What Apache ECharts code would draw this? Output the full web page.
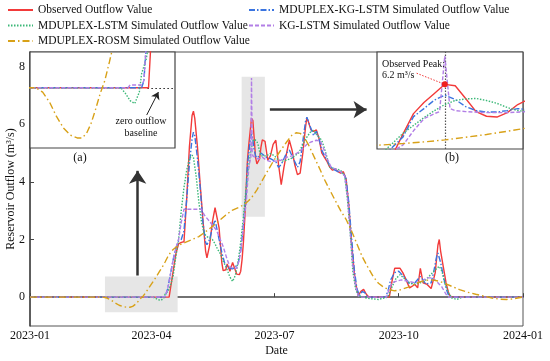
<!DOCTYPE html>
<html><head><meta charset="utf-8">
<script src="https://cdn.jsdelivr.net/npm/echarts@6/dist/echarts.min.js"></script>
<style>html,body{margin:0;padding:0;background:#fff}#c{width:550px;height:361px}</style>
</head><body><div id="c"></div>
<script>
// x values are days since 2023-01-01
const monthTicks = [0, 90, 181, 273, 365];
const monthLabels = ['2023-01', '2023-04', '2023-07', '2023-10', '2024-01'];
const yTicks = [0, 2, 4, 6, 8];

const observed = [[0,0],[103,0],[104,0.3],[106,0.9],[108,1.5],[110,1.85],[112,1.9],[114,1.92],[116,3.4],[118,5.2],[120,6.3],[121,6.45],[122,6.2],[124,5.2],[126,3.9],[128,2.7],[130,1.6],[131,1.36],[133,1.8],[135,2.6],[137,3.1],[138,3.14],[140,2.4],[142,1.2],[143,0.92],[145,0.95],[146,1.15],[148,0.9],[150,1.2],[151,1.15],[153,0.8],[155,0.78],[156,0.9],[157,1.3],[158,1.9],[159,2.7],[160,3.75],[161,4.75],[162,5.3],[163,5.75],[164,6.2],[165,6.13],[166,5.5],[167,4.85],[168,4.62],[169,4.58],[170,4.8],[171,5.2],[172,5.45],[174,5.4],[176,4.75],[178,4.9],[180,5.3],[182,5.44],[184,4.6],[186,3.9],[188,4.5],[190,5.0],[192,5.44],[194,5.1],[196,4.6],[198,4.25],[200,4.3],[202,5.0],[204,5.9],[205,6.22],[206,6.1],[208,5.8],[210,5.75],[212,5.8],[214,5.5],[216,5.0],[218,4.85],[220,4.7],[222,4.5],[224,4.4],[226,4.45],[228,4.35],[230,4.3],[232,4.35],[234,4.1],[236,3.2],[238,1.9],[240,0.9],[241,0.5],[243,0.05],[245,0.2],[247,0.27],[249,0.1],[251,0],[266,0],[268,0.55],[270,1.0],[274,1.0],[276,0.85],[278,0.65],[281,0.32],[285,0.44],[287,0.32],[289,1.0],[291,0.5],[294,0.44],[297,0.3],[300,0.84],[302,1.8],[303,2.0],[304,1.6],[306,1.05],[308,0.5],[310,0.12],[312,0],[365,0]];

const mduplexKgLstm = [[0,0],[100,0],[101,0.05],[102,0.3],[104,0.8],[106,1.3],[108,1.7],[110,1.95],[112,2.0],[114,2.3],[116,3.4],[118,4.6],[120,5.5],[121,5.72],[122,5.6],[124,4.8],[126,3.8],[128,2.6],[130,1.9],[131,1.82],[133,2.0],[135,2.4],[137,2.68],[138,2.65],[140,2.0],[142,1.55],[144,1.2],[146,1.05],[148,1.0],[150,0.98],[152,1.05],[154,1.15],[156,1.6],[158,2.5],[159,3.1],[160,3.6],[161,4.6],[162,5.0],[163,5.42],[164,5.67],[165,5.45],[166,5.1],[167,4.9],[168,4.83],[169,4.83],[170,4.9],[171,5.0],[172,4.95],[175,4.85],[178,4.8],[180,4.75],[182,4.7],[184,4.5],[186,4.6],[188,4.8],[190,5.0],[192,5.1],[194,4.9],[196,4.7],[198,4.5],[200,4.7],[202,5.4],[204,6.1],[205,6.24],[206,6.1],[208,5.85],[210,5.6],[212,5.75],[214,5.5],[216,5.1],[218,4.9],[220,4.75],[222,4.55],[224,4.45],[228,4.35],[232,4.3],[234,4.1],[236,3.3],[238,2.1],[240,1.0],[242,0.3],[244,0.05],[246,0.2],[248,0.15],[250,0],[263,0],[265,0.2],[267,0.6],[270,0.85],[273,0.9],[276,0.75],[278,0.65],[281,0.45],[285,0.5],[289,0.72],[291,0.6],[293,0.45],[297,0.5],[299,0.9],[301,1.4],[302,1.53],[304,1.2],[306,0.75],[308,0.3],[310,0.05],[312,0],[365,0]];

const mduplexLstm = [[0,0],[91,0],[93,-0.04],[95,-0.09],[97,-0.11],[99,-0.03],[100,0.1],[102,0.2],[104,0.4],[106,0.75],[108,1.4],[110,2.0],[112,3.0],[114,3.8],[116,4.4],[118,4.8],[120,4.92],[121,4.85],[123,4.2],[125,3.3],[127,2.6],[129,2.2],[131,2.1],[133,2.05],[135,2.0],[137,1.85],[139,1.65],[141,1.5],[143,1.25],[146,0.95],[148,0.7],[150,0.55],[152,0.75],[154,1.2],[156,1.9],[158,2.8],[160,3.78],[162,4.55],[163,4.9],[164,5.2],[165,5.4],[166,5.48],[167,5.5],[168,5.4],[169,5.26],[170,5.05],[171,4.9],[172,4.85],[175,4.9],[178,4.98],[181,4.9],[184,4.75],[187,4.72],[190,4.75],[193,4.8],[196,4.9],[199,5.0],[202,5.3],[205,5.55],[208,5.75],[210,5.78],[213,5.6],[216,5.44],[219,5.0],[222,4.5],[226,4.45],[230,4.4],[233,4.2],[235,3.4],[237,2.3],[239,0.9],[241,0.3],[243,0.05],[246,0],[252,-0.05],[258,-0.08],[262,-0.03],[265,0],[268,0.35],[271,0.65],[274,0.78],[277,0.65],[281,0.5],[285,0.45],[289,0.5],[292,0.55],[296,0.75],[300,0.95],[303,1.07],[305,0.9],[307,0.5],[310,0.15],[312,-0.02],[316,-0.08],[320,0],[365,0]];

const kgLstm = [[0,0],[94,0],[95,0.02],[100,0.02],[101,0.05],[102,0.3],[104,0.8],[106,1.3],[108,1.7],[110,2.0],[112,2.6],[114,3.05],[127,3.05],[129,2.85],[132,2.68],[135,2.5],[138,2.33],[140,2.1],[143,1.76],[146,1.3],[148,1.07],[150,1.0],[153,1.0],[155,1.3],[157,2.0],[158,2.5],[159,2.9],[160,3.2],[161,3.9],[162,4.5],[163,4.75],[163.5,4.85],[164,7.6],[164.5,5.0],[165,4.9],[166,4.85],[168,4.8],[170,4.8],[172,4.85],[175,4.75],[178,4.7],[182,4.72],[186,4.75],[190,4.85],[194,4.9],[198,5.0],[202,5.15],[205,5.3],[208,5.38],[212,5.44],[215,5.4],[217,5.2],[220,4.8],[223,4.5],[226,4.45],[230,4.35],[233,4.2],[235,3.5],[237,2.3],[239,1.1],[241,0.4],[243,0.05],[245,0],[264,0],[266,0.3],[268,0.5],[271,0.55],[275,0.6],[280,0.55],[285,0.5],[290,0.55],[294,0.67],[298,0.67],[301,0.55],[303,0.45],[305,0.35],[308,0.1],[310,0],[365,0]];

const mduplexRosm = [[0,0],[54,0],[57,-0.03],[60,-0.1],[63,-0.2],[66,-0.28],[69,-0.33],[72,-0.35],[74,-0.35],[76,-0.32],[78,-0.25],[80,-0.15],[82,-0.04],[84,0.05],[86,0.18],[88,0.32],[90,0.46],[92,0.6],[94,0.75],[96,0.9],[98,1.05],[100,1.22],[102,1.4],[104,1.55],[106,1.65],[108,1.73],[110,1.79],[112,1.84],[115,1.9],[120,2.0],[125,2.1],[130,2.27],[135,2.45],[140,2.65],[145,2.85],[150,3.02],[155,3.12],[158,3.2],[160,3.27],[162,3.35],[164,3.45],[166,3.58],[168,3.72],[170,3.88],[172,4.05],[175,4.3],[180,4.7],[185,5.05],[190,5.38],[194,5.62],[197,5.7],[200,5.68],[203,5.55],[206,5.3],[209,5.0],[212,4.7],[215,4.4],[218,4.08],[222,3.71],[226,3.35],[230,3.0],[234,2.7],[238,2.3],[242,1.85],[246,1.4],[250,1.05],[254,0.72],[258,0.48],[262,0.34],[266,0.26],[270,0.22],[274,0.25],[280,0.35],[286,0.48],[292,0.58],[298,0.6],[303,0.55],[308,0.46],[313,0.36],[318,0.26],[324,0.17],[330,0.1],[336,0.04],[342,-0.03],[348,-0.07],[353,-0.08],[358,-0.06],[362,-0.02],[365,0]];

const FONT = '"Liberation Serif", "Times New Roman", serif';
const defs = [
  {name: 'Observed Outflow Value', data: observed, color: '#f23a3a', type: 'solid'},
  {name: 'MDUPLEX-KG-LSTM Simulated Outflow Value', data: mduplexKgLstm, color: '#3a74e0', type: [6, 2, 1.5, 2]},
  {name: 'MDUPLEX-LSTM Simulated Outflow Value', data: mduplexLstm, color: '#3cb878', type: [1.5, 1.5]},
  {name: 'KG-LSTM Simulated Outflow Value', data: kgLstm, color: '#b27fe6', type: [4, 2]},
  {name: 'MDUPLEX-ROSM Simulated Outflow Value', data: mduplexRosm, color: '#d8a118', type: [7, 3, 1.5, 3]}
];

const insetA = {min: 51.5, max: 114.5, ymin: -0.42, ymax: 0.25};
const insetB = {min: 157.5, max: 171.5, ymin: 3.0, ymax: 7.8};
let peak = [0, -Infinity];
observed.forEach(p => { if (p[0] >= insetB.min && p[0] <= insetB.max && p[1] > peak[1]) peak = p; });

function mk(def, gi, z) {
  return {
    type: 'line', name: def.name, data: def.data, xAxisIndex: gi, yAxisIndex: gi,
    symbol: 'none', showSymbol: false, z: z, clip: true, silent: true, animation: false,
    lineStyle: {color: def.color, width: 1.4, type: def.type},
    itemStyle: {color: def.color}
  };
}

const series = [];
defs.forEach((d, i) => series.push(mk(d, 0, 2 + i * 0.01)));
series[0].markArea = {
  silent: true, itemStyle: {color: '#e6e6e6'},
  data: [
    [{xAxis: 55.5, yAxis: -0.52}, {xAxis: 109.3, yAxis: 0.72}],
    [{xAxis: 156.7, yAxis: 2.79}, {xAxis: 173.9, yAxis: 7.64}]
  ]
};
series[4].markLine = {
  silent: true, symbol: ['none', 'arrow'], symbolSize: 13, z: 6, animation: false,
  lineStyle: {color: '#333', width: 2.5, type: 'solid'}, label: {show: false},
  data: [
    [{coord: [79.7, 0.75]}, {coord: [79.7, 4.38]}],
    [{coord: [177.6, 6.5]}, {coord: [249.2, 6.5]}]
  ]
};
const aSeries = defs.map((d, i) => mk(d, 1, 12 + i * 0.01));
aSeries[0].markLine = {
  silent: true, symbol: 'none', z: 11, animation: false, label: {show: false},
  lineStyle: {color: '#222', width: 1.2, type: [1.5, 2.5]},
  data: [[{coord: [102.5, 0]}, {coord: [113.6, 0]}]]
};
aSeries[1].markLine = {
  silent: true, symbol: ['none', 'arrow'], symbolSize: 7, z: 13, animation: false, label: {show: false},
  lineStyle: {color: '#222', width: 1, type: 'solid'},
  data: [[{coord: [102.2, -0.19]}, {coord: [107.3, -0.03]}]]
};
const bSeries = defs.map((d, i) => mk(d, 2, 12 + i * 0.01));
bSeries[0].markLine = {
  silent: true, symbol: 'none', z: 11, animation: false, label: {show: false},
  lineStyle: {color: '#555', width: 1.2, type: [1.5, 1.5]},
  data: [{xAxis: peak[0]}]
};
bSeries[1].markLine = {
  silent: true, symbol: 'none', z: 13, animation: false, label: {show: false},
  lineStyle: {color: '#f23a3a', width: 1, type: [1.5, 1.5]},
  data: [[{coord: [161.3, 6.75]}, {coord: [peak[0], peak[1]]}]]
};
bSeries[0].markPoint = {
  silent: true, z: 14, animation: false, symbol: 'circle', symbolSize: 6,
  itemStyle: {color: '#f01e1e'}, label: {show: false},
  data: [{coord: [peak[0], peak[1]]}]
};
series.push(...aSeries, ...bSeries);

const axisFont = {fontFamily: FONT, fontSize: 12, color: '#111'};
const hiddenAxis = (o) => Object.assign({type: 'value', show: false, splitLine: {show: false}}, o);
const legendBase = {
  top: 4, orient: 'vertical', padding: 0, itemWidth: 25, itemHeight: 12, itemGap: 3.5, itemTextGap: 5,
  itemStyle: {opacity: 0, borderWidth: 0},
  textStyle: {fontFamily: FONT, fontSize: 11.5, color: '#111'}
};

const option = {
  backgroundColor: '#fff',
  animation: false,
  textStyle: {fontFamily: FONT},
  legend: [
    Object.assign({left: 7, data: [defs[0].name, defs[2].name, defs[4].name]}, legendBase),
    Object.assign({left: 248, data: [defs[1].name, defs[3].name]}, legendBase)
  ],
  grid: [
    {left: 30, top: 52, width: 493, height: 274, outerBoundsMode: 'none', containLabel: false, show: true, borderColor: '#555', borderWidth: 1, backgroundColor: 'transparent'},
    {left: 30, top: 52, width: 145, height: 96, outerBoundsMode: 'none', containLabel: false, show: true, z: 10, backgroundColor: '#fff', borderColor: '#444', borderWidth: 1.2},
    {left: 377, top: 52, width: 146, height: 97, outerBoundsMode: 'none', containLabel: false, show: true, z: 10, backgroundColor: '#fff', borderColor: '#444', borderWidth: 1.2}
  ],
  xAxis: [
    {type: 'value', gridIndex: 0, min: 0, max: 365,
     name: 'Date', nameLocation: 'middle', nameGap: 19, nameMoveOverlap: false, nameTextStyle: axisFont,
     axisLine: {show: true, lineStyle: {color: '#444', width: 1.5}},
     axisTick: {show: true, inside: true, length: 4, customValues: monthTicks, lineStyle: {color: '#444'}},
     axisLabel: {customValues: monthTicks, margin: 4, formatter: v => monthLabels[monthTicks.indexOf(v)], ...axisFont},
     splitLine: {show: false}},
    hiddenAxis({gridIndex: 1, min: insetA.min, max: insetA.max}),
    hiddenAxis({gridIndex: 2, min: insetB.min, max: insetB.max})
  ],
  yAxis: [
    {type: 'value', gridIndex: 0, min: -1, max: 8.5,
     name: 'Reservoir Outflow (m³/s)', nameLocation: 'middle', nameGap: 13, nameMoveOverlap: false, nameTextStyle: axisFont,
     axisLine: {show: true, lineStyle: {color: '#444', width: 1.5}},
     axisTick: {show: true, inside: true, length: 4, customValues: yTicks, lineStyle: {color: '#444'}},
     axisLabel: {customValues: yTicks, margin: 5, ...axisFont},
     splitLine: {show: false}},
    hiddenAxis({gridIndex: 1, min: insetA.ymin, max: insetA.ymax}),
    hiddenAxis({gridIndex: 2, min: insetB.ymin, max: insetB.ymax})
  ],
  series: series,
  graphic: [
    {type: 'text', z: 20, x: 80, y: 158, style: {text: '(a)', font: '12px ' + FONT, fill: '#111', align: 'center', verticalAlign: 'middle'}},
    {type: 'text', z: 20, x: 452, y: 158, style: {text: '(b)', font: '12px ' + FONT, fill: '#111', align: 'center', verticalAlign: 'middle'}},
    {type: 'text', z: 20, x: 141, y: 127, style: {text: 'zero outflow\nbaseline', font: '10px ' + FONT, lineHeight: 12, fill: '#111', align: 'center', verticalAlign: 'middle'}},
    {type: 'text', z: 20, x: 382, y: 64, style: {text: 'Observed Peak:', font: '10px ' + FONT, fill: '#111', align: 'left', verticalAlign: 'middle'}},
    {type: 'text', z: 20, x: 382, y: 75.5, style: {text: peak[1].toFixed(1) + ' m³/s', font: '10px ' + FONT, fill: '#111', align: 'left', verticalAlign: 'middle'}}
  ]
};

const chart = echarts.init(document.getElementById('c'), null, {renderer: 'canvas'});
chart.setOption(option);
</script>
</body></html>
